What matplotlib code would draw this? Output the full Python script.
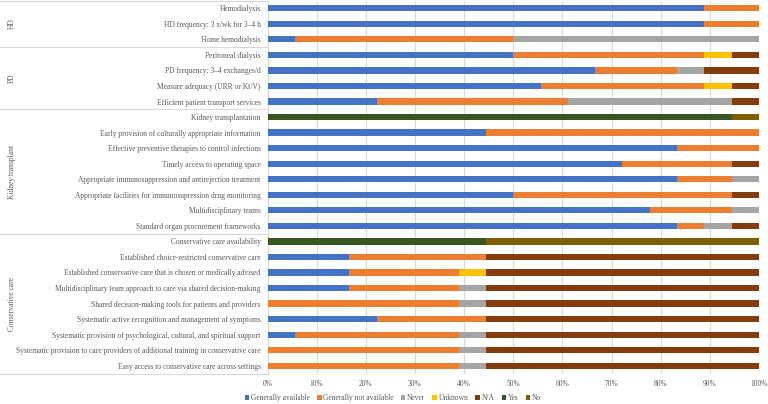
import matplotlib
matplotlib.use("Agg")
import matplotlib.pyplot as plt
import matplotlib.transforms as mtransforms
import numpy as np

categories = [
    "Hemodialysis",
    "HD frequency: 3 x/wk for 3\u20134 h",
    "Home hemodialysis",
    "Peritoneal dialysis",
    "PD frequency: 3\u20134 exchanges/d",
    "Measure adequacy (URR or Kt/V)",
    "Efficient patient transport services",
    "Kidney transplantation",
    "Early provision of culturally appropriate information",
    "Effective preventive therapies to control infections",
    "Timely access to operating space",
    "Appropriate immunosuppression and antirejection treatment",
    "Appropriate facilities for immunosupression drug monitoring",
    "Multidisciplinary teams",
    "Standard organ procurement frameworks",
    "Conservative care availability",
    "Established choice-restricted conservative care",
    "Established conservative care that is chosen or medically advised",
    "Multidisciplinary team approach to care via shared decision-making",
    "Shared decision-making tools for patients and providers",
    "Systematic active recognition and management of symptoms",
    "Systematic provision of psychological, cultural, and spiritual support",
    "Systematic provision to care providers of additional training in conservative care",
    "Easy access to conservative care across settings",
]

groups = ["HD", "PD", "Kidney transplant", "Conservative care"]
group_sizes = [3, 4, 8, 9]

generally_available = [88.89, 88.89, 5.56, 50.0, 66.67, 55.56, 22.22,
                       0, 44.44, 83.33, 72.22, 83.33, 50.0, 77.78, 83.33,
                       0, 16.67, 16.67, 16.67, 0, 22.22, 5.56, 0, 0]
generally_not_available = [11.11, 11.11, 44.44, 38.89, 16.67, 33.33, 38.89,
                           0, 55.56, 16.67, 22.22, 11.11, 44.44, 16.67, 5.56,
                           0, 27.78, 22.22, 22.22, 38.89, 22.22, 33.33, 38.89, 38.89]
never = [0, 0, 50.0, 0, 5.56, 0, 33.33,
         0, 0, 0, 0, 5.56, 0, 5.56, 5.56,
         0, 0, 0, 5.56, 5.56, 0, 5.56, 5.56, 5.56]
unknown = [0, 0, 0, 5.56, 0, 5.56, 0,
           0, 0, 0, 0, 0, 0, 0, 0,
           0, 0, 5.56, 0, 0, 0, 0, 0, 0]
not_applicable = [0, 0, 0, 5.56, 11.11, 5.56, 5.56,
                  0, 0, 0, 5.56, 0, 5.56, 0, 5.56,
                  0, 55.56, 55.56, 55.56, 55.56, 55.56, 55.56, 55.56, 55.56]
yes = [0, 0, 0, 0, 0, 0, 0,
       94.44, 0, 0, 0, 0, 0, 0, 0,
       44.44, 0, 0, 0, 0, 0, 0, 0, 0]
no = [0, 0, 0, 0, 0, 0, 0,
      5.56, 0, 0, 0, 0, 0, 0, 0,
      55.56, 0, 0, 0, 0, 0, 0, 0, 0]

series_names = ["Generally available", "Generally not available", "Never",
                "Unknown", "N/A", "Yes", "No"]
series_values = [generally_available, generally_not_available, never,
                 unknown, not_applicable, yes, no]
colors = ["#4472C4", "#ED7D31", "#A5A5A5", "#FFC000", "#843C0C", "#375623", "#7F6000"]

x_ticks = [0, 10, 20, 30, 40, 50, 60, 70, 80, 90, 100]
x_tick_labels = [f"{t}%" for t in x_ticks]

plt.rcParams["font.family"] = ["Liberation Serif", "DejaVu Serif"]
text_color = "#595959"
fs = 5.45

W, H = 768, 404
fig = plt.figure(figsize=(W / 100, H / 100), dpi=100)
left_px, right_px, top_px, bottom_px = 267.5, 759, 0.5, 373.5
ax = fig.add_axes([left_px / W, 1 - bottom_px / H,
                   (right_px - left_px) / W, (bottom_px - top_px) / H])

n = len(categories)
y = np.arange(n)
left = np.zeros(n)
for name, vals, c in zip(series_names, series_values, colors):
    v = np.array(vals, dtype=float)
    ax.barh(y, v, left=left, height=0.4, color=c, label=name,
            edgecolor="none", zorder=3)
    left += v

ax.set_xlim(0, 100)
ax.set_ylim(n - 0.5, -0.5)
ax.set_xticks(x_ticks)
ax.set_xticklabels(x_tick_labels, fontsize=fs, color=text_color)
ax.set_yticks(y)
ax.set_yticklabels(categories, fontsize=fs, color=text_color)
ax.tick_params(axis="y", length=0, pad=5)
ax.tick_params(axis="x", length=0, pad=5)
ax.grid(axis="x", color="#D9D9D9", linewidth=0.8, zorder=0)
for s in ["top", "right", "bottom"]:
    ax.spines[s].set_visible(False)
ax.spines["left"].set_color("#D9D9D9")
ax.spines["left"].set_linewidth(0.8)

# group separators and labels
trans = mtransforms.blended_transform_factory(fig.transFigure, ax.transData)
x0 = 0.0
x1 = left_px / W
bounds = [-0.5]
acc = -0.5
for s in group_sizes:
    acc += s
    bounds.append(acc)
for b in bounds:
    ax.plot([x0, x1], [b, b], transform=trans, color="#D9D9D9",
            linewidth=0.8, clip_on=False)
start = -0.5
for g, s in zip(groups, group_sizes):
    mid = start + s / 2
    ax.text(12 / W, mid, g, transform=trans, rotation=90, ha="center",
            va="center", fontsize=fs, color=text_color)
    start += s

handles, labels = ax.get_legend_handles_labels()
leg = fig.legend(handles, labels, loc="center", bbox_to_anchor=(393 / W, 1 - 398 / H),
                 ncol=7, frameon=False, fontsize=fs, handlelength=0.6,
                 handleheight=0.6, handletextpad=0.25, columnspacing=0.9,
                 borderaxespad=0)
for t in leg.get_texts():
    t.set_color(text_color)

fig.savefig("out.png", dpi=100)
